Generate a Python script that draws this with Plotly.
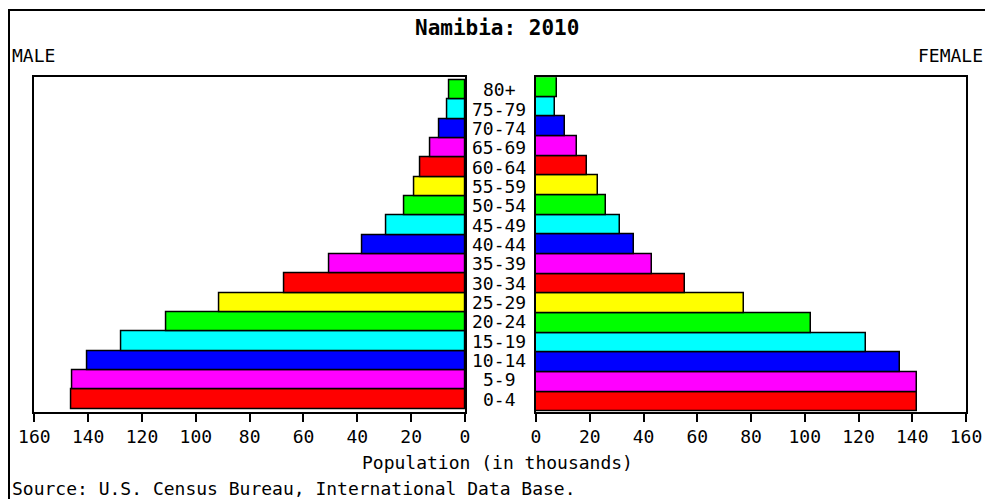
import plotly.graph_objs as go

# age groups, bottom to top
age_groups = ['0-4', '5-9', '10-14', '15-19', '20-24', '25-29', '30-34', '35-39', '40-44',
              '45-49', '50-54', '55-59', '60-64', '65-69', '70-74', '75-79', '80+']

# population in thousands
male_population = [146.1, 145.9, 140.3, 127.5, 111.1, 91.3, 67.2, 50.4, 38.0,
                   29.1, 22.7, 18.8, 16.5, 13.0, 9.5, 6.4, 5.8]
female_population = [141.8, 141.9, 135.3, 122.8, 102.3, 77.4, 55.6, 43.0, 36.6,
                     31.3, 26.2, 23.2, 18.9, 15.3, 10.9, 7.1, 7.8]

tick_values = [0, 20, 40, 60, 80, 100, 120, 140, 160]

palette = ['#ff0000', '#ff00ff', '#0000ff', '#00ffff', '#00ff00', '#ffff00']
bar_colors = [palette[i % len(palette)] for i in range(len(age_groups))]

W, H = 985, 499
FONT = 'DejaVu Sans Mono'


def px(x):
    return x / W


def py(y):
    return 1 - y / H


bar_line = {'color': 'black', 'width': 1.5}

data = [go.Bar(y=age_groups, x=male_population, orientation='h',
               marker={'color': bar_colors, 'line': bar_line},
               xaxis='x', yaxis='y', showlegend=False),
        go.Bar(y=age_groups, x=female_population, orientation='h',
               marker={'color': bar_colors, 'line': bar_line},
               xaxis='x2', yaxis='y2', showlegend=False)]

x_common = dict(tickvals=tick_values, ticks='outside', ticklen=8, tickwidth=1.5, tickcolor='black',
                showline=True, linecolor='black', linewidth=2, mirror=True,
                showgrid=False, zeroline=False, fixedrange=True, automargin=False,
                tickfont={'family': FONT, 'size': 18, 'color': 'black'})
y_common = dict(showticklabels=False, ticks='', showline=True, linecolor='black', linewidth=2,
                mirror=True, showgrid=False, zeroline=False, type='category', automargin=False,
                fixedrange=True, domain=[py(411.7), py(77.3)],
                categoryorder='array', categoryarray=age_groups)

layout = go.Layout(width=W, height=H, autosize=False, margin={'l': 0, 'r': 0, 't': 0, 'b': 0, 'pad': 0},
                   paper_bgcolor='white', plot_bgcolor='white', bargap=0,
                   font={'family': FONT, 'color': 'black', 'size': 18},
                   xaxis=dict(x_common, domain=[px(34.3), px(465)], range=[160, 0], anchor='y'),
                   xaxis2=dict(x_common, domain=[px(536), px(966)], range=[0, 160], anchor='y2'),
                   yaxis=dict(y_common, anchor='x'),
                   yaxis2=dict(y_common, anchor='x2'))

fig = go.Figure(data=data, layout=layout)

# outer frame, cut off at the right and bottom
fig.add_shape(type='rect', xref='paper', yref='paper', x0=px(9), x1=px(W + 20), y0=py(H + 20), y1=py(10),
              line={'color': 'black', 'width': 2})

# age labels between the two panels
for age in age_groups:
    fig.add_annotation(x=px(499), xref='paper', y=age, yref='y', text=age, showarrow=False,
                       xanchor='center', yanchor='middle', font={'size': 18})

fig.add_annotation(x=px(497), y=py(28), xref='paper', yref='paper', text='<b>Namibia: 2010</b>',
                   showarrow=False, xanchor='center', yanchor='middle', font={'size': 21})
fig.add_annotation(x=px(10), y=py(55), xref='paper', yref='paper', text='MALE',
                   showarrow=False, xanchor='left', yanchor='middle')
fig.add_annotation(x=px(985), y=py(55), xref='paper', yref='paper', text='FEMALE',
                   showarrow=False, xanchor='right', yanchor='middle')
fig.add_annotation(x=px(497), y=py(462), xref='paper', yref='paper', text='Population (in thousands)',
                   showarrow=False, xanchor='center', yanchor='middle')
fig.add_annotation(x=px(10), y=py(488), xref='paper', yref='paper',
                   text='Source: U.S. Census Bureau, International Data Base.',
                   showarrow=False, xanchor='left', yanchor='middle')

# page margin would push the fixed-size figure out of the window
fig.write_html('out.html', config={'displayModeBar': False},
               post_script="document.body.style.margin='0';document.body.style.overflow='hidden';")
